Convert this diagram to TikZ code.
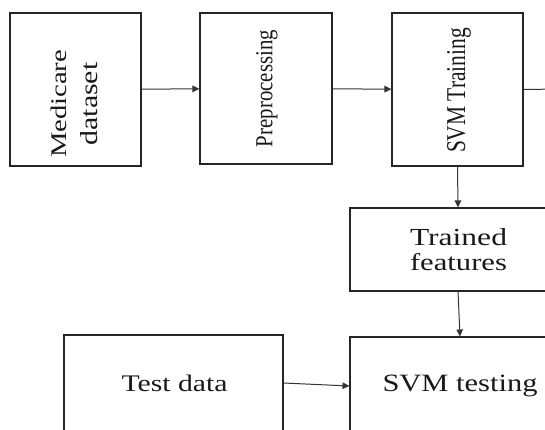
\documentclass[tikz,border=0pt]{standalone}
\usepackage{fontspec}
\setmainfont{Liberation Serif}
\usepackage{graphicx}
\usetikzlibrary{arrows.meta}
\begin{document}
\begin{tikzpicture}[x=1pt,y=-1pt,
  box/.style={draw=black!85, line width=1.1pt, inner sep=0pt},
  conn/.style={draw=black!80, line width=1pt, -{Triangle[length=7pt,width=6.5pt]}},
  plain/.style={draw=black!80, line width=1pt},
  lbl/.style={inner sep=0pt, text=black!90, font=\fontsize{24}{31}\selectfont}]
\useasboundingbox (0,0) rectangle (545,430);
\clip (0,0) rectangle (545,430);
% boxes
\node[box, minimum width=131pt, minimum height=153pt] (b1) at (75.5,89.5) {};
\node[box, minimum width=132pt, minimum height=151pt] (b2) at (266,88.5) {};
\node[box, minimum width=131pt, minimum height=153pt] (b3) at (457.5,89.5) {};
\node[box, minimum width=216pt, minimum height=83pt] (tf) at (458,249.5) {};
\node[box, minimum width=219pt, minimum height=135pt] (td) at (173.5,402.5) {};
\node[box, minimum width=220pt, minimum height=133pt] (st) at (460,403.5) {};
% texts
\node[lbl, rotate=90, align=center] (t1) at (74.5,104)
  {\resizebox{108pt}{15.5pt}{Medicare}\\\resizebox{83pt}{17pt}{dataset}};
\node[lbl, rotate=90] (t2) at (267,88.5)
  {\resizebox{117pt}{16.2pt}{Preprocessing}};
\node[lbl, rotate=90] (t3) at (459,90.5)
  {\resizebox{125pt}{18pt}{SVM Training}};
\node[lbl, align=center, font=\fontsize{25}{25}\selectfont] (t4) at (458.5,250)
  {\resizebox{97pt}{17pt}{Trained}\\\resizebox{97pt}{17pt}{features}};
\node[lbl, anchor=base] (t5) at (174.5,391)
  {\resizebox{106pt}{16.5pt}{Test data}};
\node[lbl, anchor=base] (t6) at (460,391)
  {\resizebox{155pt}{16.5pt}{SVM testing}};
% connectors
\coordinate (out) at (560,89);
\draw[conn] (b1) -- (b2);
\draw[conn] (b2) -- (b3);
\draw[plain] (b3.east) -- (out);
\draw[conn] (b3.south) -- (tf.north);
\draw[conn] (tf.south) -- (st.north);
\draw[conn] ([yshift=19.5pt]td.east) -- ([yshift=17.5pt]st.west);
\end{tikzpicture}
\end{document}
